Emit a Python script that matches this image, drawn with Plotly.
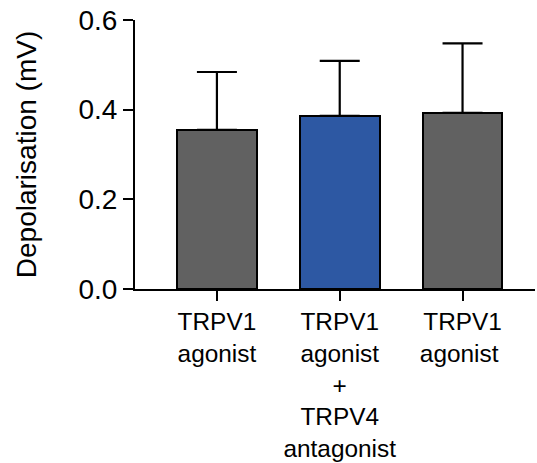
import plotly.graph_objects as go

categories = ["TRPV1<br>agonist", "TRPV1<br>agonist<br>+<br>TRPV4<br>antagonist", "TRPV1<br>agonist "]
means = [0.355, 0.386, 0.393]
errors_upper = [0.129, 0.123, 0.155]
colors = ["#616161", "#2D58A3", "#616161"]
y_ticks = [0.0, 0.2, 0.4, 0.6]
y_tick_labels = ["0.0", "0.2", "0.4", "0.6"]

FONT = "Liberation Sans, Arial, sans-serif"

fig = go.Figure()
fig.add_trace(go.Bar(
    x=[0, 1, 2],
    y=means,
    width=0.65,
    marker=dict(color=colors, line=dict(color="black", width=2)),
    error_y=dict(type="data", array=errors_upper, arrayminus=[0, 0, 0],
                 symmetric=False, color="black", thickness=2.2, width=20),
    showlegend=False,
))

fig.update_layout(
    width=537, height=463,
    margin=dict(l=135, r=2, t=20, b=174),
    paper_bgcolor="white", plot_bgcolor="white",
    font=dict(family=FONT, color="black", size=24),
    bargap=0,
)
fig.update_xaxes(
    range=[-0.667, 2.59],
    tickvals=[0, 1, 2], ticktext=categories,
    ticks="outside", ticklen=10, tickwidth=2, tickcolor="black",
    showline=True, linecolor="black", linewidth=2,
    showgrid=False, zeroline=False,
    tickfont=dict(size=24.4, family=FONT, color="black"),
)
fig.update_yaxes(
    range=[0, 0.6],
    tickvals=y_ticks, ticktext=y_tick_labels,
    ticks="outside", ticklen=10, tickwidth=2, tickcolor="black",
    showline=True, linecolor="black", linewidth=2,
    showgrid=False, zeroline=False,
    ticklabeloverflow="allow",
    tickfont=dict(size=28, family=FONT, color="black"),
    title=dict(text="Depolarisation (mV)", font=dict(size=28, family=FONT, color="black"), standoff=34),
)

fig.write_html("out.html", config={"displayModeBar": False},
               post_script="document.body.style.margin='0px';")
